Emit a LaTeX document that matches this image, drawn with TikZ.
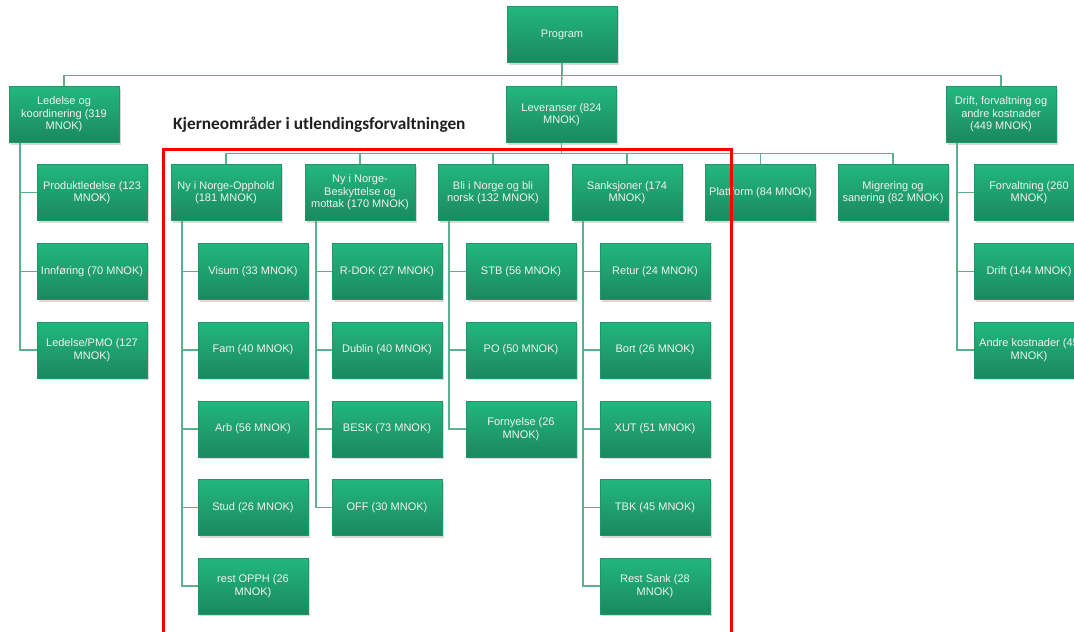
\documentclass[tikz,border=0pt]{standalone}
\usepackage{fontspec}
\setmainfont{Liberation Sans}
\newfontfamily\titlefont{Carlito}
\usetikzlibrary{shadows}
\definecolor{boxtop}{RGB}{34,183,126}
\definecolor{boxbot}{RGB}{27,136,96}
\definecolor{boxedge}{RGB}{30,150,106}
\definecolor{conncol}{RGB}{92,176,142}
\definecolor{framered}{RGB}{255,0,0}
\tikzset{
  box/.style={rectangle, minimum width=110pt, minimum height=56pt, inner sep=1pt,
    top color=boxtop, bottom color=boxbot, draw=boxedge, line width=0.4pt,
    text=white!95!black, align=center, font=\fontsize{11}{12.5}\selectfont,
    drop shadow={shadow xshift=1.5pt, shadow yshift=-2pt, opacity=0.3}},
  conn/.style={draw=conncol, line width=1.4pt},
  frame/.style={draw=framered, line width=3pt}
}
\begin{document}
\begin{tikzpicture}[x=1pt,y=-1pt]
\useasboundingbox (0,0) rectangle (1074,632);
\clip (0,0) rectangle (1074,632);

% top levels
\node[box] (prog) at (562,34.5) {Program};
\node[box] (led) at (64,114.5) {Ledelse og\\koordinering (319\\MNOK)};
\node[box] (lev) at (561.5,114.5) {Leveranser (824\\MNOK)};
\node[box] (dri) at (1001,114.5) {Drift, forvaltning og\\andre kostnader\\(449 MNOK)};

% deliverables
\node[box] (opp) at (226,192.5) {Ny i Norge-Opphold\\(181 MNOK)};
\node[box] (bes) at (360,192.5) {Ny i Norge-\\Beskyttelse og\\mottak (170 MNOK)};
\node[box] (bli) at (493,192.5) {Bli i Norge og bli\\norsk (132 MNOK)};
\node[box] (san) at (627,192.5) {Sanksjoner (174\\MNOK)};
\node[box] (pla) at (760.5,192.5) {Plattform (84 MNOK)};
\node[box] (mig) at (893,192.5) {Migrering og\\sanering (82 MNOK)};

% management
\node[box] (prod) at (92,192.5) {Produktledelse (123\\MNOK)};
\node[box] (innf) at (92,271.5) {Innføring (70 MNOK)};
\node[box] (pmo) at (92,350) {Ledelse/PMO (127\\MNOK)};

% opphold
\node[box] (visum) at (253,271.5) {Visum (33 MNOK)};
\node[box] (fam) at (253,350) {Fam (40 MNOK)};
\node[box] (arb) at (253,429) {Arb (56 MNOK)};
\node[box] (stud) at (253,507.5) {Stud (26 MNOK)};
\node[box] (ropph) at (253,586) {rest OPPH (26\\MNOK)};

% beskyttelse
\node[box] (rdok) at (387,271.5) {R-DOK (27 MNOK)};
\node[box] (dub) at (387,350) {Dublin (40 MNOK)};
\node[box] (besk) at (387,429) {BESK (73 MNOK)};
\node[box] (off) at (387,507.5) {OFF (30 MNOK)};

% bli i Norge
\node[box] (stb) at (521,271.5) {STB (56 MNOK)};
\node[box] (po) at (521,350) {PO (50 MNOK)};
\node[box] (forn) at (521,429) {Fornyelse (26\\MNOK)};

% sanksjoner
\node[box] (ret) at (655,271.5) {Retur (24 MNOK)};
\node[box] (bort) at (655,350) {Bort (26 MNOK)};
\node[box] (xut) at (655,429) {XUT (51 MNOK)};
\node[box] (tbk) at (655,507.5) {TBK (45 MNOK)};
\node[box] (rsank) at (655,586) {Rest Sank (28\\MNOK)};

% drift
\node[box] (forv) at (1029,192.5) {Forvaltning (260\\MNOK)};
\node[box] (drift) at (1029,271.5) {Drift (144 MNOK)};
\node[box] (andre) at (1029,350) {Andre kostnader (45\\MNOK)};

% connectors, top bus
\draw[conn] (prog.south) -- ++(0,12.5) coordinate (j1);
\draw[conn] (led.north) |- (j1) -| (dri.north);
\draw[conn] (j1) -- (lev.north);

% deliverables bus
\draw[conn] (lev.south) -- ++(0,10.5) coordinate (j2);
\draw[conn] (opp.north) |- (j2) -| (mig.north);
\foreach \n in {bes,bli,san,pla} \draw[conn] (\n.north) -- (\n.north |- j2);

% child trunks
\foreach \p/\c in {led/prod,led/innf,led/pmo,
                   opp/visum,opp/fam,opp/arb,opp/stud,opp/ropph,
                   bes/rdok,bes/dub,bes/besk,bes/off,
                   bli/stb,bli/po,bli/forn,
                   san/ret,san/bort,san/xut,san/tbk,san/rsank,
                   dri/forv,dri/drift,dri/andre}
  \draw[conn] ([xshift=11pt]\p.south west) |- (\c.west);

% title and frame of the core areas
\node[anchor=base west, font=\titlefont\bfseries\fontsize{17.3}{20}\selectfont,
      text=black!88, inner sep=0pt] (title) at (173,129) {Kjerneområder i utlendingsforvaltningen};
\draw[frame] (163.5,149.5) rectangle (731.5,700);
\end{tikzpicture}
\end{document}
